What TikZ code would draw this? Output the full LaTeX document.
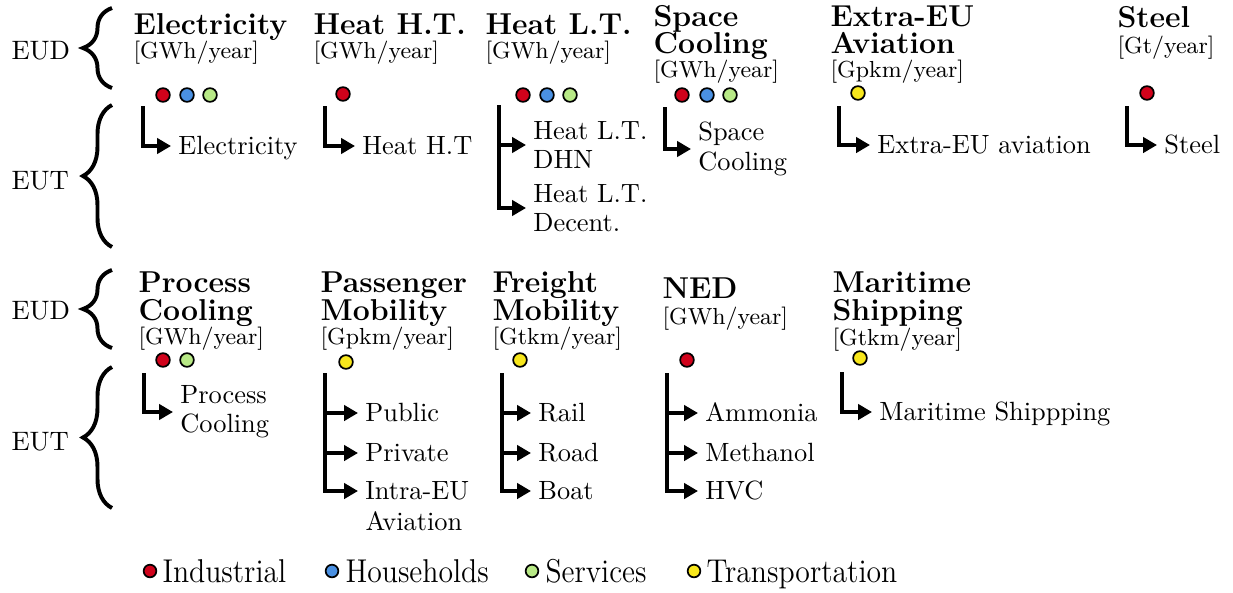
\documentclass[tikz,border=0pt]{standalone}
\usetikzlibrary{arrows.meta,decorations.pathreplacing}
\definecolor{ind}{RGB}{208,2,27}
\definecolor{hh}{RGB}{74,144,226}
\definecolor{srv}{RGB}{184,233,134}
\definecolor{trp}{RGB}{248,231,28}
\tikzset{
  title/.style={anchor=base west, inner sep=0pt, font=\fontsize{11.45}{13}\selectfont\bfseries},
  unitlbl/.style={anchor=base west, inner sep=0pt, font=\fontsize{8.8}{10}\selectfont},
  sidelbl/.style={anchor=base west, inner sep=0pt, font=\fontsize{10.1}{11}\selectfont},
  dot/.style={circle, draw=black, line width=0.65pt, minimum size=5.2pt, inner sep=0pt},
  ldot/.style={circle, draw=black, line width=0.65pt, minimum size=4.8pt, inner sep=0pt},
  outone/.style={anchor=west, inner xsep=2.6pt, inner ysep=0pt, text height=6.5pt, text depth=0pt, font=\fontsize{10}{11.1}\selectfont},
  outtwo/.style={anchor=west, inner xsep=2.6pt, inner ysep=0pt, align=left, font=\fontsize{10}{11.1}\selectfont},
  plain/.style={anchor=base west, inner sep=0pt, font=\fontsize{10}{11.1}\selectfont},
  legtxt/.style={anchor=base west, inner sep=0pt, font=\fontsize{12.5}{14}\selectfont},
  conn/.style={line width=1.3pt, -{Triangle[length=5.3pt,width=5.8pt]}},
  bracestyle/.style={line width=1.5pt, decorate, decoration={brace, amplitude=11pt}}
}
\newcommand{\legscale}[1]{\scalebox{0.9}[1.0]{#1}}
\begin{document}
\begin{tikzpicture}[x=0.379pt, y=-0.379pt]
\useasboundingbox (0,0) rectangle (1233,592);

% side labels and braces
\node[sidelbl] (eud1) at (11,59) {EUD};
\node[sidelbl] (eut1) at (11,189) {EUT};
\node[sidelbl] (eud2) at (11,319) {EUD};
\node[sidelbl] (eut2) at (11,450) {EUT};
\coordinate (b1a) at (112,88);  \coordinate (b1b) at (112,8);
\coordinate (b2a) at (112,247); \coordinate (b2b) at (112,105);
\coordinate (b3a) at (112,348); \coordinate (b3b) at (112,270);
\coordinate (b4a) at (112,508); \coordinate (b4b) at (112,367);
\draw[bracestyle] (b1a) -- (b1b);
\draw[bracestyle] (b2a) -- (b2b);
\draw[bracestyle] (b3a) -- (b3b);
\draw[bracestyle] (b4a) -- (b4b);

% ---------- top row titles ----------
\node[title] (t1) at (133,34) {Electricity};
\node[unitlbl] (u1) at (133,58) {[GWh/year]};
\node[title] (t2) at (313,34) {Heat H.T.};
\node[unitlbl] (u2) at (313,58) {[GWh/year]};
\node[title] (t3) at (485,34) {Heat L.T.};
\node[unitlbl] (u3) at (485,58) {[GWh/year]};
\node[title] (t4a) at (653,26) {Space};
\node[title] (t4b) at (653,53) {Cooling};
\node[unitlbl] (u4) at (653,77) {[GWh/year]};
\node[title] (t5a) at (830,26) {Extra-EU};
\node[title] (t5b) at (830,53) {Aviation};
\node[unitlbl] (u5) at (830,77) {[Gpkm/year]};
\node[title] (t6) at (1117,27) {Steel};
\node[unitlbl] (u6) at (1117,53) {[Gt/year]};

% top row dots
\node[dot, fill=ind] (d1a) at (163,95) {};
\node[dot, fill=hh]  (d1b) at (187,95) {};
\node[dot, fill=srv] (d1c) at (210,95) {};
\node[dot, fill=ind] (d2a) at (343,94) {};
\node[dot, fill=ind] (d3a) at (523,95) {};
\node[dot, fill=hh]  (d3b) at (547,95) {};
\node[dot, fill=srv] (d3c) at (570,95) {};
\node[dot, fill=ind] (d4a) at (682,95) {};
\node[dot, fill=hh]  (d4b) at (707,95) {};
\node[dot, fill=srv] (d4c) at (730,95) {};
\node[dot, fill=trp] (d5a) at (858,93) {};
\node[dot, fill=ind] (d6a) at (1147,93) {};

% top row outputs
\node[outone] (o1) at (171,146) {Electricity};
\node[outone] (o2) at (355,146) {Heat H.T};
\node[outtwo] (o3a) at (526,145) {Heat L.T.\\DHN};
\node[outtwo] (o3b) at (526,208) {Heat L.T.\\Decent.};
\node[outtwo] (o4) at (691,149) {Space\\Cooling};
\node[outone] (o5) at (870,145) {Extra-EU aviation};
\node[outone] (o6) at (1157,145) {Steel};

\coordinate (s1) at (143,106);
\coordinate (s2) at (325,106);
\coordinate (s3) at (499,105);
\coordinate (s4) at (665,107);
\coordinate (s5) at (839,106);
\coordinate (s6) at (1127,106);
\draw[conn] (s1) |- (o1.west);
\draw[conn] (s2) |- (o2.west);
\draw[conn] (s3) |- (o3b.west);
\draw[conn] (s3) |- (o3a.west);
\draw[conn] (s4) |- (o4.west);
\draw[conn] (s5) |- (o5.west);
\draw[conn] (s6) |- (o6.west);

% ---------- bottom row titles ----------
\node[title] (t7a) at (138,292) {Process};
\node[title] (t7b) at (138,320) {Cooling};
\node[unitlbl] (u7) at (138,344) {[GWh/year]};
\node[title] (t8a) at (320,292) {Passenger};
\node[title] (t8b) at (320,320) {Mobility};
\node[unitlbl] (u8) at (320,344) {[Gpkm/year]};
\node[title] (t9a) at (492,292) {Freight};
\node[title] (t9b) at (492,320) {Mobility};
\node[unitlbl] (u9) at (492,344) {[Gtkm/year]};
\node[title] (t10) at (662,298) {NED};
\node[unitlbl] (u10) at (662,324) {[GWh/year]};
\node[title] (t11a) at (832,292) {Maritime};
\node[title] (t11b) at (832,320) {Shipping};
\node[unitlbl] (u11) at (832,345) {[Gtkm/year]};

% bottom row dots
\node[dot, fill=ind] (d7a) at (163,360) {};
\node[dot, fill=srv] (d7b) at (187,360) {};
\node[dot, fill=trp] (d8a) at (346,362) {};
\node[dot, fill=trp] (d9a) at (520,360) {};
\node[dot, fill=ind] (d10a) at (687,360) {};
\node[dot, fill=trp] (d11a) at (860,358) {};

% bottom row outputs
\node[outtwo] (o7) at (173,412) {Process\\Cooling};
\node[outone] (o8a) at (358,413) {Public};
\node[outone] (o8b) at (358,453) {Private};
\node[outone] (o8c) at (358,491) {Intra-EU};
\node[plain] (o8d) at (365,530) {Aviation};
\node[outone] (o9a) at (531,413) {Rail};
\node[outone] (o9b) at (531,453) {Road};
\node[outone] (o9c) at (531,491) {Boat};
\node[outone] (o10a) at (698,413) {Ammonia};
\node[outone] (o10b) at (698,453) {Methanol};
\node[outone] (o10c) at (698,491) {HVC};
\node[outone] (o11) at (872,412) {Maritime Shippping};

\coordinate (s7) at (144,373);
\coordinate (s8) at (325,373);
\coordinate (s9) at (502,373);
\coordinate (s10) at (667,373);
\coordinate (s11) at (842,372);
\draw[conn] (s7) |- (o7.west);
\draw[conn] (s8) |- (o8c.west);
\draw[conn] (s8) |- (o8b.west);
\draw[conn] (s8) |- (o8a.west);
\draw[conn] (s9) |- (o9c.west);
\draw[conn] (s9) |- (o9b.west);
\draw[conn] (s9) |- (o9a.west);
\draw[conn] (s10) |- (o10c.west);
\draw[conn] (s10) |- (o10b.west);
\draw[conn] (s10) |- (o10a.west);
\draw[conn] (s11) |- (o11.west);

% ---------- legend ----------
\node[ldot, fill=ind] (ld1) at (150,571) {};
\node[legtxt] (l1) at (162,582) {\legscale{Industrial}};
\node[ldot, fill=hh]  (ld2) at (332,571) {};
\node[legtxt] (l2) at (345,582) {\legscale{Households}};
\node[ldot, fill=srv] (ld3) at (532,571) {};
\node[legtxt] (l3) at (545,582) {\legscale{Services}};
\node[ldot, fill=trp] (ld4) at (694,571) {};
\node[legtxt] (l4) at (706,582) {\legscale{Transportation}};
\end{tikzpicture}
\end{document}
